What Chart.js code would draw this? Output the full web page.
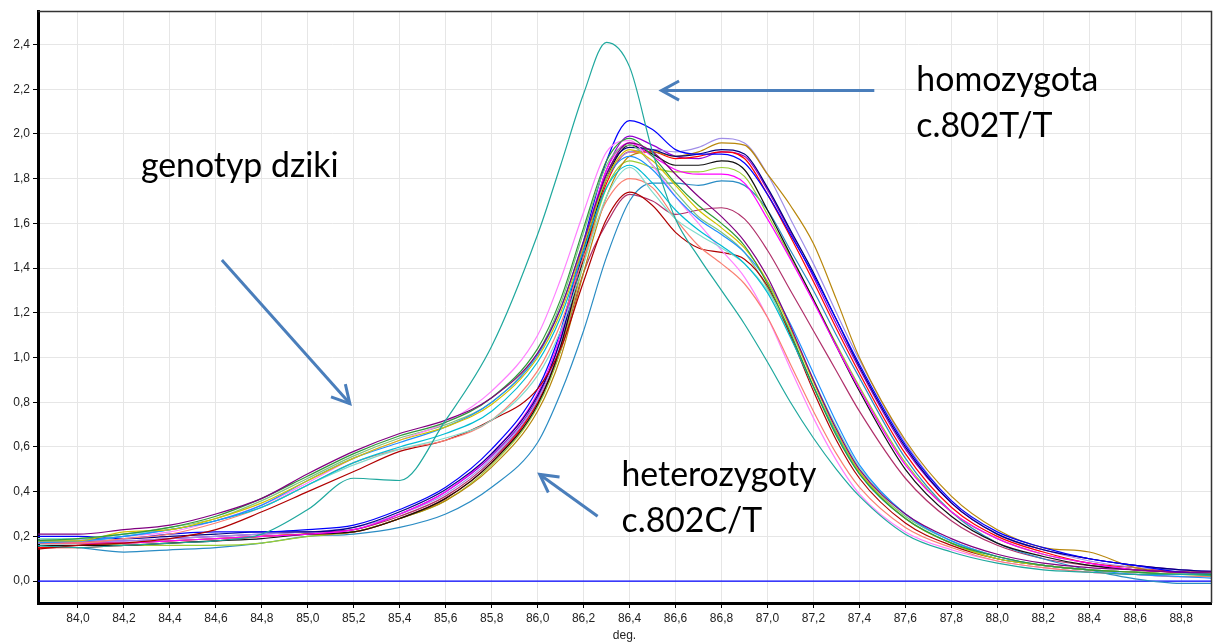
<!DOCTYPE html>
<html lang="pl">
<head>
<meta charset="UTF-8">
<title>Krzywe topnienia HRM</title>
<script src="https://cdn.jsdelivr.net/npm/chart.js@4.4.0/dist/chart.umd.min.js"></script>
<style>
  html, body { margin: 0; padding: 0; background: #fff; }
  #wykres { display: block; }
</style>
</head>
<body>
<canvas id="wykres" width="1215" height="644"></canvas>
<script>
// temperatury (deg.) wspolne dla wszystkich probek
var temps = [83.8, 84.0, 84.2, 84.4, 84.6, 84.8, 85.0, 85.2, 85.4, 85.6, 85.8, 86.0, 86.1, 86.2, 86.3, 86.4, 86.5,
             86.6, 86.7, 86.8, 86.9, 87.0, 87.1, 87.2, 87.3, 87.4, 87.6, 87.8, 88.0, 88.2, 88.4, 88.6, 88.8, 89.0];

var xTicks = [84.0, 84.2, 84.4, 84.6, 84.8, 85.0, 85.2, 85.4, 85.6, 85.8, 86.0, 86.2, 86.4, 86.6, 86.8,
              87.0, 87.2, 87.4, 87.6, 87.8, 88.0, 88.2, 88.4, 88.6, 88.8];
var yTicks = [0.0, 0.2, 0.4, 0.6, 0.8, 1.0, 1.2, 1.4, 1.6, 1.8, 2.0, 2.2, 2.4];

// homozygota c.802T/T
var homTT = [.16,.15,.16,.17,.18,.21,.32,.46,.45,.72,1.05,1.55,1.86,2.18,2.41,2.30,1.92,1.62,1.45,1.30,1.15,.98,.80,.64,.50,.38,.21,.13,.08,.05,.04,.03,.03,.02];

// genotyp dziki (ramie przy 85,2)
var wtPurple = [.21,.21,.23,.25,.30,.37,.48,.58,.66,.72,.82,1.02,1.22,1.52,1.82,1.96,1.92,1.82,1.72,1.63,1.52,1.36,1.14,.90,.68,.50,.30,.19,.12,.08,.06,.05,.04,.04];
var wtGreen = [.18,.19,.21,.24,.29,.37,.47,.57,.65,.71,.82,1.04,1.26,1.58,1.88,1.98,1.90,1.78,1.68,1.60,1.50,1.33,1.11,.87,.65,.48,.28,.17,.11,.07,.05,.04,.03,.03];
var wtGold = [.18,.18,.22,.23,.28,.35,.45,.55,.63,.69,.79,1.00,1.20,1.50,1.80,1.93,1.88,1.77,1.66,1.58,1.49,1.34,1.13,.89,.67,.49,.28,.17,.10,.07,.05,.04,.03,.02];
var wtBlue = [.17,.18,.20,.23,.27,.34,.45,.55,.62,.69,.80,1.01,1.22,1.52,1.80,1.90,1.84,1.72,1.62,1.55,1.47,1.34,1.15,.93,.71,.52,.30,.18,.11,.07,.05,.03,.02,.01];
var wtCyan = [.18,.18,.20,.23,.27,.33,.43,.53,.60,.66,.76,.98,1.18,1.48,1.76,1.86,1.78,1.66,1.57,1.50,1.42,1.29,1.09,.87,.66,.48,.28,.17,.10,.07,.05,.04,.03,.03];
var wtAqua = [.19,.19,.21,.23,.27,.33,.43,.52,.59,.64,.72,.92,1.12,1.42,1.72,1.85,1.74,1.62,1.55,1.49,1.42,1.30,1.12,.90,.69,.51,.30,.18,.11,.07,.05,.04,.03,.03];
var wtSalmon = [.17,.17,.19,.21,.26,.33,.43,.53,.59,.63,.72,.94,1.15,1.45,1.70,1.80,1.76,1.62,1.50,1.42,1.33,1.18,.97,.76,.57,.42,.24,.15,.09,.06,.04,.03,.02,.02];
var wtPink = [.18,.18,.20,.22,.27,.34,.44,.55,.63,.71,.85,1.10,1.35,1.65,1.92,1.97,1.86,1.72,1.60,1.48,1.36,1.18,.95,.73,.54,.39,.22,.14,.09,.06,.04,.03,.02,.02];
var wtDarkRed = [.14,.16,.17,.19,.23,.31,.40,.49,.58,.63,.72,.86,1.04,1.34,1.62,1.74,1.68,1.56,1.49,1.47,1.44,1.32,1.10,.85,.63,.46,.26,.16,.10,.07,.05,.04,.03,.03];
var wtLightGreen = [.19,.19,.21,.24,.28,.36,.46,.56,.64,.70,.80,1.02,1.24,1.56,1.86,1.95,1.86,1.74,1.63,1.56,1.47,1.31,1.10,.87,.66,.49,.29,.18,.11,.07,.05,.04,.03,.03];

// heterozygoty c.802C/T
var hetBlue = [.20,.20,.19,.21,.22,.22,.23,.25,.32,.42,.59,.86,1.12,1.52,1.88,2.06,2.02,1.93,1.91,1.91,1.87,1.73,1.55,1.37,1.17,.97,.61,.36,.22,.15,.10,.07,.04,.03];
var hetNavy = [.19,.19,.19,.20,.21,.22,.22,.24,.31,.41,.57,.83,1.08,1.48,1.82,1.94,1.93,1.90,1.91,1.93,1.91,1.76,1.57,1.38,1.17,.96,.60,.35,.21,.14,.10,.07,.05,.04];
var hetMagenta = [.17,.17,.17,.18,.19,.20,.21,.23,.30,.40,.57,.84,1.10,1.50,1.84,1.96,1.90,1.84,1.82,1.82,1.78,1.62,1.44,1.25,1.05,.86,.52,.31,.19,.12,.08,.05,.04,.03];
var hetBlack = [.16,.16,.16,.17,.18,.19,.21,.22,.28,.37,.53,.79,1.05,1.45,1.80,1.95,1.91,1.86,1.86,1.88,1.84,1.66,1.46,1.26,1.05,.85,.50,.29,.17,.11,.07,.05,.04,.03];
var hetOchre = [.17,.17,.17,.18,.19,.20,.21,.22,.28,.36,.51,.76,1.00,1.38,1.72,1.90,1.92,1.90,1.92,1.96,1.95,1.82,1.68,1.51,1.26,1.00,.63,.38,.23,.15,.13,.06,.04,.04];
var hetLavender = [.18,.18,.18,.19,.20,.21,.22,.24,.30,.39,.55,.81,1.06,1.46,1.80,1.92,1.93,1.92,1.94,1.98,1.96,1.82,1.62,1.42,1.20,.99,.62,.36,.21,.14,.09,.06,.05,.04];
var hetRed = [.15,.15,.16,.17,.18,.20,.21,.22,.28,.37,.53,.80,1.05,1.44,1.78,1.92,1.92,1.89,1.90,1.92,1.89,1.73,1.54,1.34,1.13,.93,.57,.33,.20,.13,.08,.06,.04,.03];
var hetYellowGreen = [.17,.17,.16,.16,.16,.17,.20,.22,.28,.36,.52,.78,1.03,1.42,1.76,1.88,1.85,1.83,1.83,1.85,1.81,1.64,1.45,1.26,1.06,.87,.53,.31,.19,.12,.08,.05,.04,.03];
var hetSteel = [.16,.15,.13,.14,.15,.17,.20,.21,.24,.30,.42,.62,.84,1.12,1.45,1.70,1.78,1.78,1.77,1.79,1.77,1.66,1.48,1.30,1.10,.91,.55,.31,.17,.10,.05,.01,-.01,-.01];
var hetMaroon = [.18,.18,.17,.18,.19,.20,.21,.23,.29,.38,.54,.80,1.03,1.38,1.60,1.73,1.70,1.64,1.66,1.67,1.62,1.48,1.30,1.12,.94,.76,.46,.27,.16,.10,.07,.05,.04,.03];
var hetViolet = [.18,.18,.18,.19,.20,.21,.22,.23,.30,.40,.56,.82,1.08,1.48,1.84,1.99,1.95,1.90,1.89,1.92,1.90,1.75,1.56,1.36,1.15,.95,.59,.35,.21,.14,.10,.07,.05,.04];

// linia bazowa
var baseX = [83.8, 89.0];
var baseY = [0, 0];

var samples = [
  ['homozygota', homTT, '#1fa89e'],
  ['dziki 1', wtPurple, '#800080'],
  ['dziki 2', wtGreen, '#2f9a3a'],
  ['dziki 3', wtGold, '#d2c200'],
  ['dziki 4', wtBlue, '#1e90ff'],
  ['dziki 5', wtCyan, '#00bcd4'],
  ['dziki 6', wtAqua, '#80dccc'],
  ['dziki 7', wtSalmon, '#fa8072'],
  ['dziki 8', wtPink, '#ff80ff'],
  ['dziki 9', wtDarkRed, '#b00000'],
  ['dziki 10', wtLightGreen, '#7cc47c'],
  ['het 1', hetBlue, '#0000ff'],
  ['het 2', hetNavy, '#000080'],
  ['het 3', hetMagenta, '#ff00ff'],
  ['het 4', hetBlack, '#111111'],
  ['het 5', hetOchre, '#b8860b'],
  ['het 6', hetLavender, '#a08ee8'],
  ['het 7', hetRed, '#ff0000'],
  ['het 8', hetYellowGreen, '#9acd32'],
  ['het 9', hetSteel, '#2a8cc4'],
  ['het 10', hetMaroon, '#b0306a'],
  ['het 11', hetViolet, '#9400d3']
];

// opisy i strzalki w jednostkach osi
var notes = [
  { lines: ['genotyp dziki'], x: 84.274, y: 1.806 },
  { lines: ['homozygota', 'c.802T/T'], x: 87.648, y: 2.194 },
  { lines: ['heterozygoty', 'c.802C/T'], x: 86.365, y: 0.424 }
];
var arrows = [
  { from: [87.465, 2.194], to: [86.539, 2.194] },
  { from: [84.626, 1.436], to: [85.183, 0.794] },
  { from: [86.261, 0.290], to: [86.009, 0.477] }
];

var datasets = samples.map(function (s) {
  return {
    label: s[0],
    data: temps.map(function (t, i) { return { x: t, y: s[1][i] }; }),
    borderColor: s[2],
    borderWidth: 1.2,
    pointRadius: 0,
    fill: false,
    cubicInterpolationMode: 'monotone'
  };
});
datasets.push({
  label: 'zero',
  data: baseX.map(function (t, i) { return { x: t, y: baseY[i] }; }),
  borderColor: 'rgb(0, 0, 255)',
  borderWidth: 1.3,
  pointRadius: 0,
  fill: false
});

function przecinek(v) {
  return Number(v).toFixed(1).replace('.', ',');
}

var ramka = {
  id: 'ramka',
  afterDraw: function (chart) {
    var c = chart.ctx, a = chart.chartArea, sx = chart.scales.x, sy = chart.scales.y;
    c.save();
    // gorna i prawa krawedz
    c.strokeStyle = '#333';
    c.lineWidth = 1.5;
    c.beginPath();
    c.moveTo(a.left, a.top + 0.5);
    c.lineTo(a.right + 0.5, a.top + 0.5);
    c.lineTo(a.right + 0.5, a.bottom);
    c.stroke();

    // rozmiar czcionki dobrany do szerokosci napisu
    var family = 'Lato, "Open Sans", sans-serif';
    c.font = '100px ' + family;
    var size = 100 * 195 / c.measureText('heterozygoty').width;
    c.font = size.toFixed(1) + 'px ' + family;
    c.fillStyle = '#000';
    c.textBaseline = 'alphabetic';
    notes.forEach(function (n) {
      var px = sx.getPixelForValue(n.x), py = sy.getPixelForValue(n.y);
      n.lines.forEach(function (t, i) { c.fillText(t, px, py + i * 46); });
    });

    c.strokeStyle = '#4a7ebb';
    c.lineWidth = 3;
    c.lineCap = 'butt';
    arrows.forEach(function (ar) {
      var x1 = sx.getPixelForValue(ar.from[0]), y1 = sy.getPixelForValue(ar.from[1]);
      var x2 = sx.getPixelForValue(ar.to[0]), y2 = sy.getPixelForValue(ar.to[1]);
      var ang = Math.atan2(y2 - y1, x2 - x1), len = 20, rozw = 0.5;
      c.beginPath();
      c.moveTo(x1, y1);
      c.lineTo(x2, y2);
      c.stroke();
      c.beginPath();
      c.moveTo(x2 - len * Math.cos(ang - rozw), y2 - len * Math.sin(ang - rozw));
      c.lineTo(x2, y2);
      c.lineTo(x2 - len * Math.cos(ang + rozw), y2 - len * Math.sin(ang + rozw));
      c.stroke();
    });
    c.restore();
  }
};

var tickFont = { family: '"Liberation Sans", Arial, sans-serif', size: 12 };

new Chart(document.getElementById('wykres'), {
  type: 'line',
  data: { datasets: datasets },
  plugins: [ramka],
  options: {
    responsive: false,
    devicePixelRatio: 1,
    animation: false,
    layout: { padding: { top: 11, right: 4, left: 0, bottom: 0 } },
    plugins: { legend: { display: false }, tooltip: { enabled: false } },
    scales: {
      x: {
        type: 'linear',
        min: 83.826,
        max: 88.93,
        afterBuildTicks: function (s) { s.ticks = xTicks.map(function (v) { return { value: v }; }); },
        afterFit: function (s) { s.height = 41; },
        ticks: { callback: przecinek, font: tickFont, color: '#222', padding: 3, maxRotation: 0, autoSkip: false },
        grid: { color: '#e6e6e6', tickColor: '#000', tickLength: 5 },
        border: { color: '#000', width: 3 },
        title: { display: true, text: 'deg.', font: tickFont, color: '#222', padding: { top: 0, bottom: 1 } }
      },
      y: {
        type: 'linear',
        min: -0.098,
        max: 2.55,
        afterBuildTicks: function (s) { s.ticks = yTicks.map(function (v) { return { value: v }; }); },
        afterFit: function (s) { s.width = 38; },
        ticks: { callback: przecinek, font: tickFont, color: '#222', padding: 3, autoSkip: false },
        grid: { color: '#e6e6e6', tickColor: '#000', tickLength: 5 },
        border: { color: '#000', width: 3 }
      }
    }
  }
});
</script>
</body>
</html>
